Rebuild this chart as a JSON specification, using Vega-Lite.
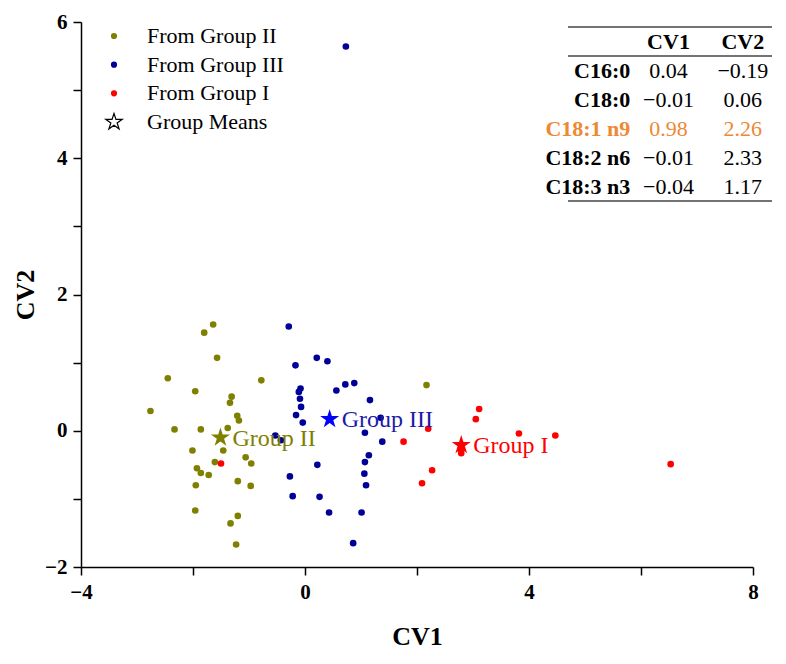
{
  "$schema": "https://vega.github.io/schema/vega-lite/v6.json",
  "width": 672,
  "height": 545,
  "autosize": {"type": "none"},
  "padding": {"left": 81, "top": 22, "right": 33, "bottom": 97},
  "background": "white",
  "config": {"view": {"stroke": null}, "font": "Liberation Serif"},
  "datasets": {
    "pts": [
      {"series": "From Group II", "cv1": -1.64, "cv2": 1.56},
      {"series": "From Group II", "cv1": -1.80, "cv2": 1.44},
      {"series": "From Group II", "cv1": -1.57, "cv2": 1.07},
      {"series": "From Group II", "cv1": -2.45, "cv2": 0.77},
      {"series": "From Group II", "cv1": -0.78, "cv2": 0.74},
      {"series": "From Group II", "cv1": -1.96, "cv2": 0.58},
      {"series": "From Group II", "cv1": -1.31, "cv2": 0.50},
      {"series": "From Group II", "cv1": -1.34, "cv2": 0.41},
      {"series": "From Group II", "cv1": -2.76, "cv2": 0.29},
      {"series": "From Group II", "cv1": -1.21, "cv2": 0.22},
      {"series": "From Group II", "cv1": -1.18, "cv2": 0.15},
      {"series": "From Group II", "cv1": -2.33, "cv2": 0.02},
      {"series": "From Group II", "cv1": -1.86, "cv2": 0.02},
      {"series": "From Group II", "cv1": -1.38, "cv2": 0.04},
      {"series": "From Group II", "cv1": -2.01, "cv2": -0.29},
      {"series": "From Group II", "cv1": -1.46, "cv2": -0.29},
      {"series": "From Group II", "cv1": -1.06, "cv2": -0.39},
      {"series": "From Group II", "cv1": -1.61, "cv2": -0.46},
      {"series": "From Group II", "cv1": -0.96, "cv2": -0.48},
      {"series": "From Group II", "cv1": -1.93, "cv2": -0.55},
      {"series": "From Group II", "cv1": -1.86, "cv2": -0.62},
      {"series": "From Group II", "cv1": -1.72, "cv2": -0.65},
      {"series": "From Group II", "cv1": -1.20, "cv2": -0.74},
      {"series": "From Group II", "cv1": -1.95, "cv2": -0.80},
      {"series": "From Group II", "cv1": -0.97, "cv2": -0.81},
      {"series": "From Group II", "cv1": -1.96, "cv2": -1.17},
      {"series": "From Group II", "cv1": -1.20, "cv2": -1.25},
      {"series": "From Group II", "cv1": -1.33, "cv2": -1.36},
      {"series": "From Group II", "cv1": -1.23, "cv2": -1.67},
      {"series": "From Group II", "cv1": 2.17, "cv2": 0.67},
      {"series": "From Group III", "cv1": -0.29, "cv2": 1.53},
      {"series": "From Group III", "cv1": 0.21, "cv2": 1.07},
      {"series": "From Group III", "cv1": 0.40, "cv2": 1.02},
      {"series": "From Group III", "cv1": -0.17, "cv2": 0.96},
      {"series": "From Group III", "cv1": 0.72, "cv2": 0.68},
      {"series": "From Group III", "cv1": 0.88, "cv2": 0.70},
      {"series": "From Group III", "cv1": 0.56, "cv2": 0.59},
      {"series": "From Group III", "cv1": -0.08, "cv2": 0.62},
      {"series": "From Group III", "cv1": -0.11, "cv2": 0.57},
      {"series": "From Group III", "cv1": -0.09, "cv2": 0.47},
      {"series": "From Group III", "cv1": 1.16, "cv2": 0.45},
      {"series": "From Group III", "cv1": -0.07, "cv2": 0.35},
      {"series": "From Group III", "cv1": -0.16, "cv2": 0.23},
      {"series": "From Group III", "cv1": -0.04, "cv2": 0.12},
      {"series": "From Group III", "cv1": 1.35, "cv2": 0.19},
      {"series": "From Group III", "cv1": 1.07, "cv2": -0.03},
      {"series": "From Group III", "cv1": 1.38, "cv2": -0.16},
      {"series": "From Group III", "cv1": -0.53, "cv2": -0.07},
      {"series": "From Group III", "cv1": -0.43, "cv2": -0.14},
      {"series": "From Group III", "cv1": 1.14, "cv2": -0.36},
      {"series": "From Group III", "cv1": 1.07, "cv2": -0.46},
      {"series": "From Group III", "cv1": 0.22, "cv2": -0.50},
      {"series": "From Group III", "cv1": 1.06, "cv2": -0.63},
      {"series": "From Group III", "cv1": 1.09, "cv2": -0.80},
      {"series": "From Group III", "cv1": -0.27, "cv2": -0.67},
      {"series": "From Group III", "cv1": -0.22, "cv2": -0.96},
      {"series": "From Group III", "cv1": 0.26, "cv2": -0.97},
      {"series": "From Group III", "cv1": 0.43, "cv2": -1.20},
      {"series": "From Group III", "cv1": 1.01, "cv2": -1.20},
      {"series": "From Group III", "cv1": 0.86, "cv2": -1.65},
      {"series": "From Group III", "cv1": 0.73, "cv2": 5.64},
      {"series": "From Group I", "cv1": 3.11, "cv2": 0.32},
      {"series": "From Group I", "cv1": 3.05, "cv2": 0.17},
      {"series": "From Group I", "cv1": 2.20, "cv2": 0.03},
      {"series": "From Group I", "cv1": 1.76, "cv2": -0.16},
      {"series": "From Group I", "cv1": 3.82, "cv2": -0.04},
      {"series": "From Group I", "cv1": 4.47, "cv2": -0.07},
      {"series": "From Group I", "cv1": 2.78, "cv2": -0.27},
      {"series": "From Group I", "cv1": 2.79, "cv2": -0.33},
      {"series": "From Group I", "cv1": 2.27, "cv2": -0.58},
      {"series": "From Group I", "cv1": 2.09, "cv2": -0.77},
      {"series": "From Group I", "cv1": 6.53, "cv2": -0.49},
      {"series": "From Group I", "cv1": -1.50, "cv2": -0.48}
    ],
    "means": [
      {"group": "Group II", "cv1": -1.51, "cv2": -0.10},
      {"group": "Group III", "cv1": 0.44, "cv2": 0.17},
      {"group": "Group I", "cv1": 2.79, "cv2": -0.21}
    ],
    "leg": [
      {"series": "From Group II"},
      {"series": "From Group III"},
      {"series": "From Group I"},
      {"series": "Group Means"}
    ],
    "tbl": [
      {"row": "header", "col": "CV1", "value": "CV1"},
      {"row": "header", "col": "CV2", "value": "CV2"},
      {"row": "C16:0", "col": "label", "value": "C16:0"},
      {"row": "C16:0", "col": "CV1", "value": "0.04"},
      {"row": "C16:0", "col": "CV2", "value": "−0.19"},
      {"row": "C18:0", "col": "label", "value": "C18:0"},
      {"row": "C18:0", "col": "CV1", "value": "−0.01"},
      {"row": "C18:0", "col": "CV2", "value": "0.06"},
      {"row": "C18:1 n9", "col": "label", "value": "C18:1 n9"},
      {"row": "C18:1 n9", "col": "CV1", "value": "0.98"},
      {"row": "C18:1 n9", "col": "CV2", "value": "2.26"},
      {"row": "C18:2 n6", "col": "label", "value": "C18:2 n6"},
      {"row": "C18:2 n6", "col": "CV1", "value": "−0.01"},
      {"row": "C18:2 n6", "col": "CV2", "value": "2.33"},
      {"row": "C18:3 n3", "col": "label", "value": "C18:3 n3"},
      {"row": "C18:3 n3", "col": "CV1", "value": "−0.04"},
      {"row": "C18:3 n3", "col": "CV2", "value": "1.17"}
    ],
    "lines_top": [{"row": "header"}, {"row": "C16:0"}],
    "lines_bottom": [{"row": "C18:3 n3"}]
  },
  "layer": [
    {
      "layer": [
        {
          "data": {"name": "pts"},
          "mark": {"type": "point", "filled": true, "opacity": 1, "size": 44},
          "encoding": {
            "x": {
              "field": "cv1", "type": "quantitative",
              "scale": {"domain": [-4, 8], "nice": false, "zero": false},
              "axis": {
                "title": "CV1", "values": [-4, -2, 0, 2, 4, 6, 8], "format": "d",
                "labelExpr": "datum.value % 4 === 0 ? datum.label : ''",
                "grid": false, "tickSize": 8, "tickColor": "black", "tickWidth": 1.5,
                "domainColor": "black", "domainWidth": 1.5,
                "labelFont": "Liberation Serif", "labelFontWeight": "bold", "labelFontSize": 21,
                "labelColor": "black", "labelPadding": 6, "labelFlush": false, "labelOverlap": false,
                "titleFont": "Liberation Serif", "titleFontSize": 26, "titleFontWeight": "bold",
                "titleColor": "black", "titlePadding": 21
              }
            },
            "y": {
              "field": "cv2", "type": "quantitative",
              "scale": {"domain": [-2, 6], "nice": false, "zero": false},
              "axis": {
                "title": "CV2", "values": [-2, -1, 0, 1, 2, 3, 4, 5, 6], "format": "d",
                "labelExpr": "datum.value % 2 === 0 ? datum.label : ''",
                "grid": false, "tickSize": 8, "tickColor": "black", "tickWidth": 1.5,
                "domainColor": "black", "domainWidth": 1.5,
                "labelFont": "Liberation Serif", "labelFontWeight": "bold", "labelFontSize": 21,
                "labelColor": "black", "labelPadding": 6, "labelFlush": false, "labelOverlap": false,
                "titleFont": "Liberation Serif", "titleFontSize": 26, "titleFontWeight": "bold",
                "titleColor": "black", "titlePadding": 6
              }
            },
            "fill": {
              "field": "series", "type": "nominal",
              "scale": {"domain": ["From Group II", "From Group III", "From Group I"], "range": ["#808000", "#000099", "#FF0000"]},
              "legend": null
            }
          }
        },
        {
          "data": {"name": "means"},
          "mark": {"type": "point", "filled": true, "opacity": 1, "size": 400, "shape": "M0,-1L0.225,-0.309L0.951,-0.309L0.363,0.118L0.588,0.809L0,0.382L-0.588,0.809L-0.363,0.118L-0.951,-0.309L-0.225,-0.309Z"},
          "encoding": {
            "x": {"field": "cv1", "type": "quantitative"},
            "y": {"field": "cv2", "type": "quantitative"},
            "color": {"field": "group", "type": "nominal", "scale": {"domain": ["Group II", "Group III", "Group I"], "range": ["#808000", "#0000FF", "#FF0000"]}, "legend": null}
          }
        },
        {
          "data": {"name": "means"},
          "mark": {"type": "text", "align": "left", "baseline": "middle", "dx": 12, "dy": 1, "font": "Liberation Serif", "fontSize": 24},
          "encoding": {
            "x": {"field": "cv1", "type": "quantitative"},
            "y": {"field": "cv2", "type": "quantitative"},
            "text": {"field": "group"},
            "color": {"field": "group", "type": "nominal", "scale": {"domain": ["Group II", "Group III", "Group I"], "range": ["#808000", "#1C1CA8", "#FF0000"]}, "legend": null}
          }
        }
      ],
      "resolve": {"scale": {"color": "independent"}}
    },
    {
      "layer": [
        {
          "data": {"name": "leg"},
          "transform": [{"filter": "datum.series !== 'Group Means'"}],
          "mark": {"type": "point", "filled": true, "opacity": 1, "size": 38},
          "encoding": {
            "x": {"datum": "sym", "type": "nominal", "scale": {"type": "point", "domain": ["sym", "lab"], "range": [33, 66], "padding": 0}, "axis": null},
            "y": {"field": "series", "type": "nominal", "scale": {"type": "point", "domain": ["From Group II", "From Group III", "From Group I", "Group Means"], "range": [14, 100], "padding": 0}, "axis": null},
            "fill": {"field": "series", "type": "nominal", "legend": null}
          }
        },
        {
          "data": {"name": "leg"},
          "transform": [{"filter": "datum.series === 'Group Means'"}],
          "mark": {"type": "point", "filled": false, "fill": "white", "stroke": "black", "strokeWidth": 1.2, "opacity": 1, "size": 300, "shape": "M0,-1L0.225,-0.309L0.951,-0.309L0.363,0.118L0.588,0.809L0,0.382L-0.588,0.809L-0.363,0.118L-0.951,-0.309L-0.225,-0.309Z"},
          "encoding": {
            "x": {"datum": "sym", "type": "nominal", "axis": null},
            "y": {"field": "series", "type": "nominal", "axis": null}
          }
        },
        {
          "data": {"name": "leg"},
          "mark": {"type": "text", "align": "left", "baseline": "middle", "font": "Liberation Serif", "fontSize": 22, "color": "black"},
          "encoding": {
            "x": {"datum": "lab", "type": "nominal", "axis": null},
            "y": {"field": "series", "type": "nominal", "axis": null},
            "text": {"field": "series"}
          }
        }
      ]
    },
    {
      "layer": [
        {
          "data": {"name": "tbl"},
          "transform": [{"filter": "datum.col === 'label'"}],
          "mark": {"type": "text", "align": "right", "baseline": "middle", "font": "Liberation Serif", "fontSize": 22, "fontWeight": "bold", "dx": -1},
          "encoding": {
            "x": {"field": "col", "type": "nominal", "bandPosition": 1, "scale": {"type": "band", "domain": ["label", "CV1", "CV2"], "range": [476, 699], "paddingInner": 0, "paddingOuter": 0}, "axis": null},
            "y": {"field": "row", "type": "nominal", "scale": {"type": "band", "domain": ["header", "C16:0", "C18:0", "C18:1 n9", "C18:2 n6", "C18:3 n3"], "range": [5, 179], "paddingInner": 0, "paddingOuter": 0}, "axis": null},
            "text": {"field": "value"},
            "color": {"condition": {"test": "datum.row === 'C18:1 n9'", "value": "#EE8833"}, "value": "black"}
          }
        },
        {
          "data": {"name": "tbl"},
          "transform": [{"filter": "datum.row === 'header'"}],
          "mark": {"type": "text", "align": "center", "baseline": "middle", "font": "Liberation Serif", "fontSize": 22, "fontWeight": "bold"},
          "encoding": {
            "x": {"field": "col", "type": "nominal", "axis": null},
            "y": {"field": "row", "type": "nominal", "axis": null},
            "text": {"field": "value"},
            "color": {"value": "black"}
          }
        },
        {
          "data": {"name": "tbl"},
          "transform": [{"filter": "datum.row !== 'header' && datum.col !== 'label'"}],
          "mark": {"type": "text", "align": "center", "baseline": "middle", "font": "Liberation Serif", "fontSize": 22},
          "encoding": {
            "x": {"field": "col", "type": "nominal", "axis": null},
            "y": {"field": "row", "type": "nominal", "axis": null},
            "text": {"field": "value"},
            "color": {"condition": {"test": "datum.row === 'C18:1 n9'", "value": "#EE8833"}, "value": "black"}
          }
        },
        {
          "data": {"name": "lines_top"},
          "mark": {"type": "rule", "color": "#444444", "strokeWidth": 1.4, "xOffset": 11, "x2Offset": -8},
          "encoding": {
            "x": {"datum": "label", "type": "nominal", "bandPosition": 0, "axis": null},
            "x2": {"datum": "CV2", "bandPosition": 1},
            "y": {"field": "row", "type": "nominal", "bandPosition": 0, "axis": null}
          }
        },
        {
          "data": {"name": "lines_bottom"},
          "mark": {"type": "rule", "color": "#444444", "strokeWidth": 1.4, "xOffset": 11, "x2Offset": -8},
          "encoding": {
            "x": {"datum": "label", "type": "nominal", "bandPosition": 0, "axis": null},
            "x2": {"datum": "CV2", "bandPosition": 1},
            "y": {"field": "row", "type": "nominal", "bandPosition": 1, "axis": null}
          }
        }
      ]
    }
  ],
  "resolve": {"scale": {"x": "independent", "y": "independent"}, "axis": {"x": "independent", "y": "independent"}}
}
